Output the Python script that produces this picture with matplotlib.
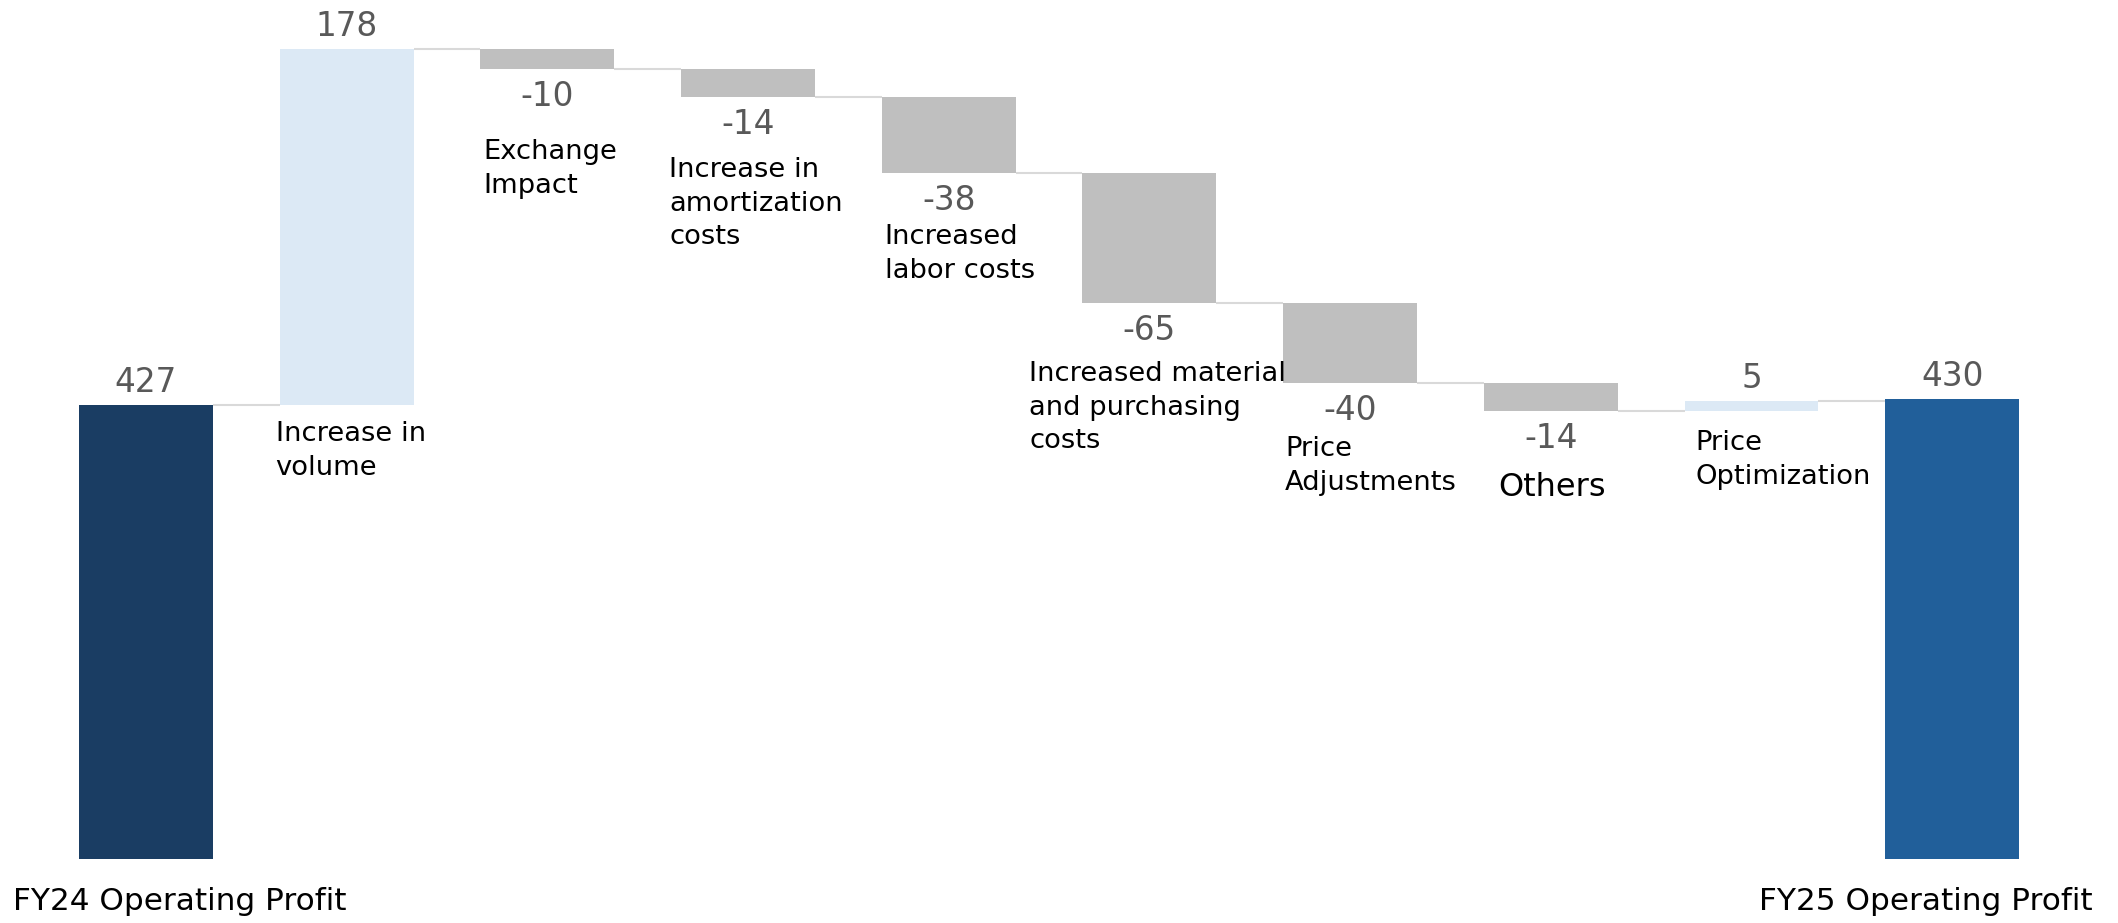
import matplotlib.pyplot as plt

plt.rcParams['font.family'] = ['DejaVu Sans']

categories = ["FY24 Operating Profit", "Increase in\nvolume", "Exchange\nImpact",
              "Increase in\namortization\ncosts", "Increased\nlabor costs",
              "Increased material\nand purchasing\ncosts", "Price\nAdjustments",
              "Others", "Price\nOptimization", "FY25 Operating Profit"]
values = [427, 178, -10, -14, -38, -65, -40, -14, 5, 430]
is_total = [True, False, False, False, False, False, False, False, False, True]

# colours
c_start = "#1a3d63"
c_end = "#215f9a"
c_up = "#dce9f5"
c_down = "#bfbfbf"
c_line = "#d9d9d9"
c_val = "#595959"

# running totals -> bar bottoms/tops
bottoms, heights = [], []
running = 0
for v, tot in zip(values, is_total):
    if tot:
        bottoms.append(0)
        heights.append(v)
        running = v
    else:
        bottoms.append(running)
        heights.append(v)
        running += v

colors = []
for i, v in enumerate(values):
    if i == 0:
        colors.append(c_start)
    elif i == len(values) - 1:
        colors.append(c_end)
    elif v >= 0:
        colors.append(c_up)
    else:
        colors.append(c_down)

fig = plt.figure(figsize=(21.18, 9.23), dpi=100)
ax = fig.add_axes([0, 64 / 923, 1, 859 / 923])
ax.set_xlim(-0.727, 9.826)
ax.set_ylim(200, 629.5)
ax.axis('off')

width = 0.667
x = list(range(len(values)))
ax.bar(x, heights, bottom=bottoms, width=width, color=colors, zorder=2)

# connectors
for i in range(len(values) - 1):
    level = bottoms[i] + heights[i]
    ax.plot([i + width / 2, i + 1 - width / 2], [level, level],
            color=c_line, lw=1.5, zorder=1, solid_capstyle='butt')

PT = 0.72  # px -> pt at 100 dpi

# value labels
for i, v in enumerate(values):
    top = max(bottoms[i], bottoms[i] + heights[i])
    low = min(bottoms[i], bottoms[i] + heights[i])
    if v >= 0:
        ax.annotate(str(v), (i, top), xytext=(0, 23 * PT), textcoords='offset points',
                    ha='center', va='center', fontsize=23.5, color=c_val)
    else:
        ax.annotate(str(v), (i, low), xytext=(0, -27 * PT), textcoords='offset points',
                    ha='center', va='center', fontsize=23.5, color=c_val)

# category label placement (px offsets from bar left edge / bar bottom)
label_offsets = {1: (-4, 16), 2: (3, 70), 3: (-12, 60), 4: (3, 51),
                 5: (-53, 58), 6: (2, 53), 7: (14, 61), 8: (11, 19)}
for i, (dx, dy) in label_offsets.items():
    low = min(bottoms[i], bottoms[i] + heights[i])
    size = 23 if categories[i] == "Others" else 19.7
    ax.annotate(categories[i], (i - width / 2, low), xytext=(dx * PT, -dy * PT),
                textcoords='offset points', ha='left', va='top', fontsize=size,
                color='black', linespacing=1.38, annotation_clip=False)

# total labels under the end bars
ax.annotate(categories[0], (0 - width / 2, 200), xytext=(-66 * PT, -42 * PT),
            textcoords='offset points', ha='left', va='center', fontsize=22.4,
            annotation_clip=False)
ax.annotate(categories[-1], (9 + width / 2, 200), xytext=(73 * PT, -42 * PT),
            textcoords='offset points', ha='right', va='center', fontsize=22.4,
            annotation_clip=False)

fig.savefig("out.png", dpi=100)
